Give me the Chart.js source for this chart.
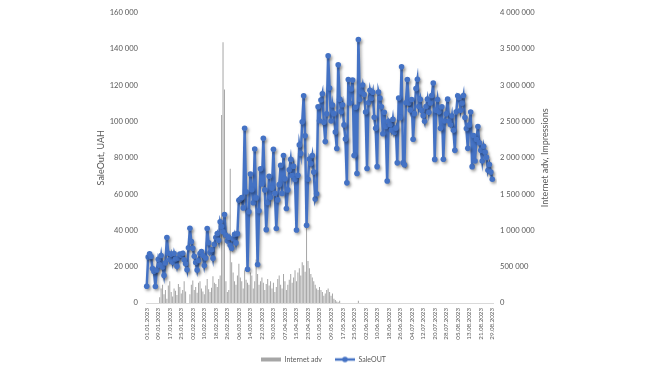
<!DOCTYPE html>
<html>

<head>
   <meta charset="UTF-8">
   <title>SaleOUT vs Internet adv</title>
   <script src="https://cdn.jsdelivr.net/npm/chart.js@4.4.0/dist/chart.umd.min.js"></script>
   <style>
      html, body { margin: 0; padding: 0; background: #fff; overflow: hidden; }
      #wrap { width: 645px; height: 390px; }
   </style>
</head>

<body>
   <div id="wrap"><canvas id="chart" width="645" height="390"></canvas></div>
   <script>
      // daily categories, 01.01.2023 .. 29.08.2023
      const firstDay = [2023, 0, 1];
      const dayCount = 241;
      const dates = [];
      for (let i = 0; i < dayCount; i++) {
         const d = new Date(firstDay[0], firstDay[1], firstDay[2] + i);
         const dd = String(d.getDate()).padStart(2, "0");
         const mm = String(d.getMonth() + 1).padStart(2, "0");
         dates.push(dd + "." + mm + "." + d.getFullYear());
      }

      // SaleOUT, UAH (left axis)
      const saleOutJan = [9200, 25300, 27100, 25600, 19000, 17400, 9100, 18200, 24100, 21000, 26200, 19800, 15200, 22100, 36100, 27400,
         23900, 26800, 22500, 27300, 24200, 20300, 24800, 27000, 26300, 27400, 23800, 21600, 18300, 30400, 41200];
      const saleOutFeb = [33800, 30100, 25700, 22300, 18200, 23500, 27200, 28400, 26100, 20600, 24800, 41000, 33200, 27800,
         29300, 24700, 32400, 36100, 38300, 34600, 44800, 42100, 39200, 48700, 37400, 34300, 36200, 31800];
      const saleOutMar = [30200, 35400, 37800, 33100, 38200, 56600, 57300, 58100, 52400, 96300, 61200, 18600, 50300, 71100, 62400,
         55200, 84800, 57900, 21200, 50800, 73900, 65600, 90800, 62300, 40400, 55300, 69800, 58200, 63300, 84700, 60400];
      const saleOutApr = [41000, 56800, 65200, 75800, 60300, 81200, 68400, 52100, 62300, 73400, 79100, 70200, 75300, 68100, 40200,
         70400, 87100, 82300, 99800, 114200, 92100, 42800, 68200, 79300, 76800, 81200, 72100, 57300, 60200, 108100];
      const saleOutMay = [100400, 111800, 115300, 99600, 88900, 104200, 136200, 118400, 100300, 109100, 104300, 94200, 85100, 131200,
         112300, 105400, 109200, 98100, 90300, 66200, 123100, 110200, 117900, 122800, 81200, 107800, 71300, 145200, 112100, 116300, 120100];
      const saleOutJun = [114800, 105200, 74100, 110300, 117200, 112800, 116100, 102300, 96200, 75100, 116200, 112900, 108100, 93200,
         105100, 97300, 67200, 100100, 98200, 95300, 101200, 94100, 96300, 77200, 112900, 102100, 130100, 77300, 76200, 110300];
      const saleOutJul = [123100, 110200, 106300, 112100, 90200, 104300, 118100, 123200, 108300, 112200, 106100, 103200, 100100, 108200,
         112300, 105100, 110200, 114300, 121200, 79100, 106200, 112100, 105300, 96200, 108100, 79200, 100300, 104200, 112300, 100100, 98200];
      const saleOutAug = [103100, 95200, 84100, 105300, 114200, 113100, 106200, 110100, 114300, 102200, 96100, 85200, 98100, 105200,
         75100, 92300, 78200, 90100, 97200, 88300, 84100, 78200, 86300, 83100, 80200, 73100, 76300, 72100, 68200];

      // Internet adv, impressions (right axis)
      const advJan = [0, 0, 0, 0, 0, 0, 0, 0, 0, 80000, 200000, 250000, 120000, 180000, 60000, 240000, 300000, 150000, 90000, 200000,
         170000, 110000, 260000, 220000, 130000, 180000, 300000, 160000, 0, 0, 120000];
      const advFeb = [250000, 310000, 180000, 220000, 140000, 280000, 300000, 200000, 160000, 120000, 240000, 330000, 190000, 150000,
         210000, 370000, 280000, 260000, 220000, 330000, 380000, 2590000, 3590000, 2940000, 300000, 150000, 180000, 1850000];
      const advMar = [560000, 420000, 300000, 250000, 380000, 540000, 350000, 300000, 200000, 450000, 320000, 280000, 250000, 420000,
         380000, 200000, 300000, 600000, 400000, 250000, 300000, 350000, 280000, 180000, 260000, 330000, 240000, 300000, 200000, 280000, 150000];
      const advApr = [220000, 330000, 380000, 250000, 200000, 400000, 300000, 180000, 250000, 320000, 400000, 280000, 350000, 450000,
         300000, 420000, 480000, 380000, 560000, 520000, 430000, 1600000, 580000, 480000, 400000, 350000, 300000, 250000, 200000, 180000];
      const advMay = [220000, 180000, 150000, 100000, 130000, 180000, 200000, 150000, 100000, 130000, 60000, 40000, 20000, 10000, 30000,
         0, 0, 0, 0, 0, 0, 0, 0, 0, 0, 0, 0, 30000, 0, 0, 0];
      const advJun = [0, 0, 0, 0, 0, 0, 0, 0, 0, 0, 0, 0, 0, 0, 0, 0, 0, 0, 0, 0, 0, 0, 0, 0, 0, 0, 0, 0, 0, 0];
      const advJul = [0, 0, 0, 0, 0, 0, 0, 0, 0, 0, 0, 0, 0, 0, 0, 0, 0, 0, 0, 0, 0, 0, 0, 0, 0, 0, 0, 0, 0, 0, 0];
      const advAug = [0, 0, 0, 0, 0, 0, 0, 0, 0, 0, 0, 0, 0, 0, 0, 0, 0, 0, 0, 0, 0, 0, 0, 0, 0, 0, 0, 0, 0];

      const saleOut = [].concat(saleOutJan, saleOutFeb, saleOutMar, saleOutApr, saleOutMay, saleOutJun, saleOutJul, saleOutAug);
      const internetAdv = [].concat(advJan, advFeb, advMar, advApr, advMay, advJun, advJul, advAug);

      const leftTicks = { max: 160000, step: 20000 };
      const rightTicks = { max: 4000000, step: 500000 };
      const labelEvery = 8;

      const lineColor = "#4472C4";
      const barColor = "#a6a6a6";
      const textColor = "#595959";
      const fontFamily = "Lato, 'Open Sans', sans-serif";

      // "160 000" style
      function spaced(v) {
         return String(v).replace(/\B(?=(\d{3})+(?!\d))/g, " ");
      }

      // small legend markers
      function legendIcon(kind) {
         const c = document.createElement("canvas");
         c.width = 20;
         c.height = 8;
         const g = c.getContext("2d");
         if (kind == "bar") {
            g.fillStyle = barColor;
            g.fillRect(0, 2, 20, 4);
         } else {
            g.strokeStyle = lineColor;
            g.lineWidth = 2.5;
            g.beginPath();
            g.moveTo(0, 4);
            g.lineTo(20, 4);
            g.stroke();
            g.fillStyle = lineColor;
            g.beginPath();
            g.arc(10, 4, 2.8, 0, Math.PI * 2);
            g.fill();
         }
         return c;
      }

      // soft shadow under the line, as in the original
      const lineShadow = {
         id: "lineShadow",
         beforeDatasetDraw(chart, args) {
            if (args.meta.type !== "line") return;
            const ctx = chart.ctx;
            ctx.save();
            ctx.shadowColor = "rgba(0,0,0,0.35)";
            ctx.shadowBlur = 3;
            ctx.shadowOffsetX = 1.5;
            ctx.shadowOffsetY = 2;
         },
         afterDatasetDraw(chart, args) {
            if (args.meta.type !== "line") return;
            chart.ctx.restore();
         }
      };

      // right title reads bottom-to-top like the left one
      const rightTitle = {
         id: "rightTitle",
         afterDraw(chart) {
            const ctx = chart.ctx;
            const area = chart.chartArea;
            ctx.save();
            ctx.translate(545, (area.top + area.bottom) / 2);
            ctx.rotate(-Math.PI / 2);
            ctx.fillStyle = textColor;
            ctx.font = "9px " + fontFamily;
            ctx.textAlign = "center";
            ctx.textBaseline = "middle";
            ctx.fillText("Internet adv, Impressions", 0, 0);
            ctx.restore();
         }
      };

      const chart = new Chart(document.getElementById("chart"), {
         data: {
            labels: dates,
            datasets: [
               {
                  type: "bar",
                  label: "Internet adv",
                  data: internetAdv,
                  yAxisID: "y2",
                  backgroundColor: barColor,
                  barPercentage: 0.7,
                  categoryPercentage: 1,
                  order: 1
               },
               {
                  type: "line",
                  label: "SaleOUT",
                  data: saleOut,
                  yAxisID: "y",
                  borderColor: lineColor,
                  backgroundColor: lineColor,
                  borderWidth: 2.5,
                  pointRadius: 2.8,
                  pointBorderWidth: 0,
                  pointBackgroundColor: lineColor,
                  tension: 0,
                  order: 0
               }
            ]
         },
         options: {
            responsive: false,
            animation: false,
            events: [],
            layout: { padding: { left: 92, right: 90, top: 10, bottom: 17 } },
            scales: {
               x: {
                  grid: { display: false, drawTicks: false },
                  border: { display: true, color: "#d9d9d9", width: 1 },
                  ticks: {
                     autoSkip: false,
                     minRotation: 90,
                     maxRotation: 90,
                     padding: 5,
                     color: textColor,
                     font: { family: fontFamily, size: 6.2 },
                     callback: (v, i) => (i % labelEvery == 0 ? dates[i] : "")
                  },
                  afterFit(scale) { scale.height = 40; }
               },
               y: {
                  position: "left",
                  min: 0,
                  max: leftTicks.max,
                  grid: { display: false, drawTicks: false },
                  border: { display: false },
                  ticks: {
                     stepSize: leftTicks.step,
                     padding: 8,
                     color: textColor,
                     font: { family: fontFamily, size: 7.6 },
                     callback: v => spaced(v)
                  },
                  title: {
                     display: true,
                     text: "SaleOut, UAH",
                     color: textColor,
                     font: { family: fontFamily, size: 9 },
                     padding: { top: 4, bottom: 4 }
                  },
                  afterFit(scale) { scale.width = 54; }
               },
               y2: {
                  position: "right",
                  min: 0,
                  max: rightTicks.max,
                  grid: { display: false, drawTicks: false },
                  border: { display: false },
                  ticks: {
                     stepSize: rightTicks.step,
                     padding: 7,
                     color: textColor,
                     font: { family: fontFamily, size: 7.6 },
                     callback: v => spaced(v)
                  },
                  afterFit(scale) { scale.width = 62; }
               }
            },
            plugins: {
               tooltip: { enabled: false },
               legend: {
                  position: "bottom",
                  labels: {
                     usePointStyle: true,
                     pointStyleWidth: 20,
                     boxHeight: 8,
                     padding: 13,
                     color: textColor,
                     font: { family: fontFamily, size: 7 },
                     generateLabels: () => [
                        { text: "Internet adv", pointStyle: legendIcon("bar"), fontColor: textColor, lineWidth: 0, strokeStyle: "transparent", fillStyle: barColor },
                        { text: "SaleOUT", pointStyle: legendIcon("line"), fontColor: textColor, lineWidth: 0, strokeStyle: "transparent", fillStyle: lineColor }
                     ]
                  }
               }
            }
         },
         plugins: [lineShadow, rightTitle]
      });
   </script>
</body>

</html>
